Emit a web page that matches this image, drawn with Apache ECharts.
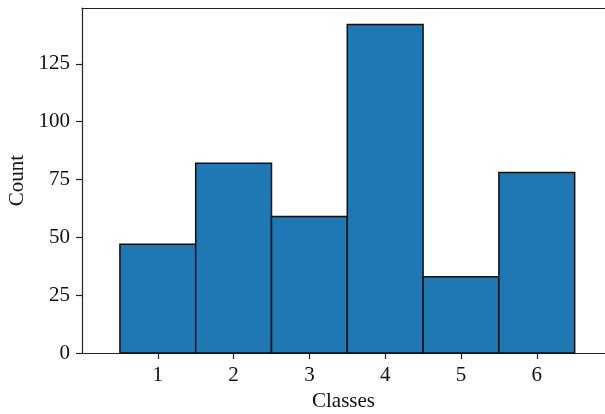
<!DOCTYPE html>
<html>
<head>
<meta charset="utf-8">
<script src="https://cdn.jsdelivr.net/npm/echarts@6/dist/echarts.min.js"></script>
<style>
  html, body { margin: 0; padding: 0; background: #fff; }
  #chart { width: 605px; height: 414px; }
</style>
</head>
<body>
<div id="chart"></div>
<script>
const classes = [1, 2, 3, 4, 5, 6]
const counts = [47, 82, 59, 142, 33, 78]
const yTicks = [0, 25, 50, 75, 100, 125]

const font = 'Liberation Serif'
const axisColor = '#222'

let myChart = echarts.init(document.getElementById('chart'))
myChart.setOption({
  animation: false,
  grid: { left: 82, top: 8, right: 0, bottom: 61, outerBoundsMode: 'none', containLabel: false },
  xAxis: [{
    type: 'value',
    min: 0,
    max: 6.9,
    interval: 1,
    name: 'Classes',
    nameLocation: 'middle',
    nameGap: 38,
    nameTextStyle: { fontFamily: font, fontSize: 21, color: '#111' },
    axisLine: { show: true, lineStyle: { color: axisColor, width: 1.2 } },
    axisTick: { show: true, length: 6, customValues: classes, lineStyle: { color: axisColor, width: 1.2 } },
    splitLine: { show: false },
    axisLabel: {
      fontFamily: font, fontSize: 21, color: '#111', margin: 12,
      customValues: classes
    }
  }, {
    type: 'value',
    position: 'top',
    min: 0,
    max: 6.9,
    axisLine: { show: true, lineStyle: { color: axisColor, width: 1.2 } },
    axisTick: { show: false },
    axisLabel: { show: false },
    splitLine: { show: false }
  }],
  yAxis: {
    type: 'value',
    min: 0,
    max: 149.1,
    interval: 25,
    name: 'Count',
    nameLocation: 'middle',
    nameGap: 53,
    nameTextStyle: { fontFamily: font, fontSize: 21, color: '#111' },
    axisLine: { show: true, lineStyle: { color: axisColor, width: 1.2 } },
    axisTick: { show: true, length: 6, customValues: yTicks, lineStyle: { color: axisColor, width: 1.2 } },
    splitLine: { show: false },
    axisLabel: {
      fontFamily: font, fontSize: 21, color: '#111', margin: 12,
      customValues: yTicks
    }
  },
  series: [{
    type: 'custom',
    data: classes.map((c, i) => [c, counts[i]]),
    encode: { x: 0, y: 1 },
    renderItem: (params, api) => {
      const c = api.value(0)
      const v = api.value(1)
      const p0 = api.coord([c - 0.5, v])
      const p1 = api.coord([c + 0.5, 0])
      return {
        type: 'rect',
        shape: { x: p0[0], y: p0[1], width: p1[0] - p0[0], height: p1[1] - p0[1] },
        style: { fill: '#1f77b4', stroke: '#111', lineWidth: 1.5 }
      }
    }
  }]
})
</script>
</body>
</html>
